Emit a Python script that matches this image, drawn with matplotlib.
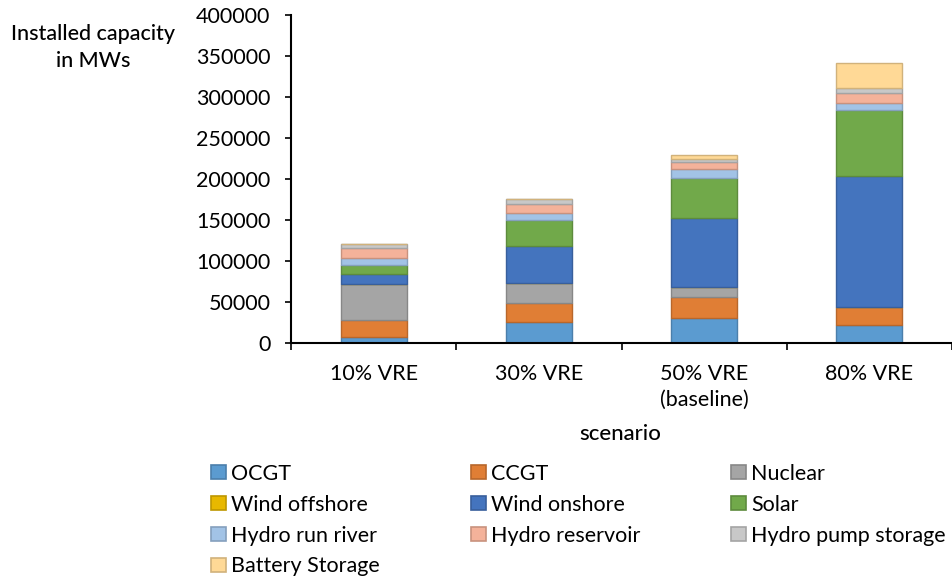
import numpy as np
import matplotlib.pyplot as plt
from matplotlib.patches import Patch
from matplotlib.colors import to_rgb

plt.rcParams['font.family'] = ['Lato', 'DejaVu Sans']

scenarios = ['10% VRE', '30% VRE', '50% VRE\n(baseline)', '80% VRE']
technologies = ['OCGT', 'CCGT', 'Nuclear', 'Wind offshore', 'Wind onshore',
                'Solar', 'Hydro run river', 'Hydro reservoir',
                'Hydro pump storage', 'Battery Storage']

# installed capacity per technology (MW), one value per scenario
ocgt = [7000, 26000, 31000, 22000]
ccgt = [21500, 22500, 25500, 22000]
nuclear = [43000, 24500, 12000, 0]
wind_offshore = [0, 0, 0, 0]
wind_onshore = [12500, 45500, 83500, 159500]
solar = [11500, 31000, 49000, 80500]
hydro_run_river = [8500, 9000, 11000, 9000]
hydro_reservoir = [11500, 11500, 9000, 11500]
hydro_pump_storage = [5000, 5500, 4000, 7000]
battery_storage = [0, 0, 4500, 29500]

series = [ocgt, ccgt, nuclear, wind_offshore, wind_onshore, solar,
          hydro_run_river, hydro_reservoir, hydro_pump_storage, battery_storage]

colors = ['#5B9BD0', '#E07E35', '#A5A5A5', '#E8B800', '#4474BE', '#71A94A',
          '#A2C3E6', '#F4B29A', '#C8C8C8', '#FFD996']


def darker(c, f=0.82):
    return tuple(np.array(to_rgb(c)) * f)


fig = plt.figure(figsize=(9.52, 5.8), dpi=100)
ax = fig.add_axes([0.306, 0.4086, 0.694, 0.5655])

x = np.arange(len(scenarios))
bottom = np.zeros(len(scenarios))
for name, vals, col in zip(technologies, series, colors):
    vals = np.array(vals, dtype=float)
    ax.bar(x, vals, width=0.4, bottom=bottom, color=col,
           edgecolor=darker(col), linewidth=1.0, label=name)
    bottom += vals

ax.set_xlim(-0.5, len(scenarios) - 0.5)
ax.set_ylim(0, 400000)
ax.set_yticks(np.arange(0, 400001, 50000))
ax.set_xticks(x)
ax.set_xticklabels(scenarios, fontsize=15.5, linespacing=1.35)
ax.set_xticks(np.arange(-0.5, len(scenarios)), minor=True)
ax.tick_params(axis='x', which='major', length=0, pad=15)
ax.tick_params(axis='x', which='minor', length=5, width=1.2, direction='out')
ax.tick_params(axis='y', labelsize=15.5, length=4, width=1.2, pad=11)

for side in ['top', 'right']:
    ax.spines[side].set_visible(False)
for side in ['left', 'bottom']:
    ax.spines[side].set_linewidth(1.5)

fig.text(0.098, 0.918, 'Installed capacity\nin MWs', ha='center', va='center',
         fontsize=15.5, fontweight='medium', linespacing=1.45)
fig.text(0.652, 0.252, 'scenario', ha='center', va='center',
         fontsize=16, fontweight='medium')

# legend is filled column by column, so order entries for a 3-wide grid
order = [0, 3, 6, 9, 1, 4, 7, 2, 5, 8]
handles = [Patch(facecolor=colors[i], edgecolor=darker(colors[i]), linewidth=1.2)
           for i in order]
labels = [technologies[i] for i in order]
fig.legend(handles, labels, ncol=3, loc='upper left',
           bbox_to_anchor=(0.2216, 0.2), frameon=False, fontsize=15.5,
           handlelength=0.7, handleheight=0.62, handletextpad=0.25,
           columnspacing=4.2, labelspacing=0.5, borderpad=0, borderaxespad=0)

fig.savefig('out.png', dpi=100)
